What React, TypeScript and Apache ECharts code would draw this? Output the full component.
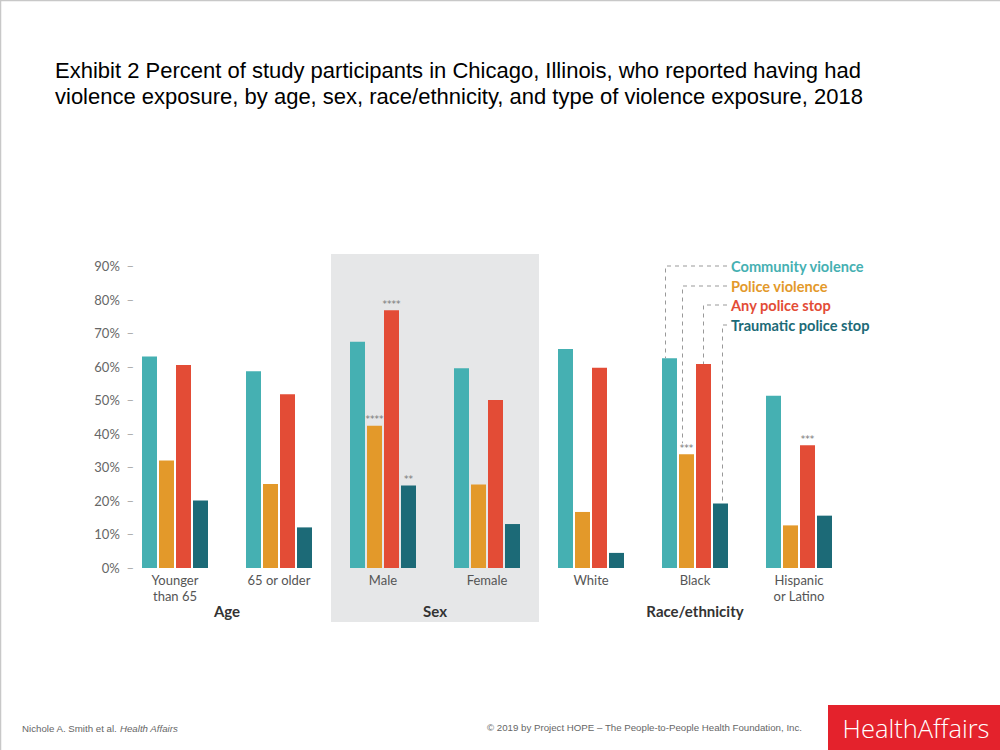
import React, { useEffect, useRef } from "react";
import * as echarts from "echarts";

const categories = ["Younger\nthan 65", "65 or older", "Male", "Female", "White", "Black", "Hispanic\nor Latino"];
const seriesNames = ["Community violence", "Police violence", "Any police stop", "Traumatic police stop"];
const communityViolence = [63.0, 58.6, 67.4, 59.5, 65.3, 62.5, 51.3];
const policeViolence = [32.0, 25.0, 42.4, 24.9, 16.7, 33.9, 12.7];
const anyPoliceStop = [60.5, 51.8, 76.8, 50.1, 59.7, 60.8, 36.6];
const traumaticPoliceStop = [20.1, 12.1, 24.6, 13.1, 4.5, 19.2, 15.6];
const communityStars = ["", "", "", "", "", "", ""];
const policeStars = ["", "", "****", "", "", "***", ""];
const anyStopStars = ["", "", "****", "", "", "", "***"];
const traumaticStars = ["", "", "**", "", "", "", ""];
const yTicks = [0, 10, 20, 30, 40, 50, 60, 70, 80, 90];
const groups = [
  { name: "Age", from: 0, to: 1 },
  { name: "Sex", from: 2, to: 3 },
  { name: "Race/ethnicity", from: 5, to: 5 },
];
const titleLines = [
  "Exhibit 2 Percent of study participants in Chicago, Illinois, who reported having had",
  "violence exposure, by age, sex, race/ethnicity, and type of violence exposure, 2018",
];

const colors = ["#45b0b2", "#e3992a", "#e34c36", "#1c6a77"];
const allValues = [communityViolence, policeViolence, anyPoliceStop, traumaticPoliceStop];
const allStars = [communityStars, policeStars, anyStopStars, traumaticStars];

export default function App() {
  const ref = useRef<HTMLDivElement>(null);
  useEffect(() => {
    if (!ref.current) return;
    const chart = echarts.init(ref.current, null, { renderer: "svg" });
    const barWidth = 15;
    const barGapPx = 2;
    chart.setOption({
      animation: false,
      grid: { left: 123, width: 728, top: 266, height: 302 },
      xAxis: {
        type: "category",
        data: categories,
        axisLine: { show: false },
        axisTick: { show: false },
        axisLabel: {
          color: "#555",
          fontFamily: "Lato",
          fontSize: 13,
          lineHeight: 16,
          margin: 4,
        },
      },
      yAxis: {
        type: "value",
        min: yTicks[0],
        max: yTicks[yTicks.length - 1],
        interval: 10,
        splitLine: { show: false },
        axisLine: { show: false },
        axisTick: { show: false },
        axisLabel: {
          margin: -11,
          formatter: (v: number) => `{a|${v}%}  {b|–}`,
          rich: {
            a: { color: "#666", fontFamily: "Lato", fontSize: 13 },
            b: { color: "#aaa", fontFamily: "Lato", fontSize: 13 },
          },
        },
      },
      series: allValues.map((vals, i) => ({
        name: seriesNames[i],
        type: "bar",
        barWidth,
        barGap: `${(barGapPx / barWidth) * 100}%`,
        itemStyle: { color: colors[i] },
        z: 3,
        data: vals.map((v, j) =>
          allStars[i][j]
            ? {
                value: v,
                label: {
                  show: true,
                  position: "top",
                  distance: 2,
                  formatter: allStars[i][j],
                  color: "#777",
                  fontSize: 9,
                  fontFamily: "DejaVu Sans",
                },
              }
            : v
        ),
      })),
    });

    const px = (cat: number, val: number) => chart.convertToPixel({ gridIndex: 0 } as any, [cat, val]) as number[];
    const cw = 728 / categories.length;
    const catLeft = (i: number) => px(i, 0)[0] - cw / 2;
    const catRight = (i: number) => px(i, 0)[0] + cw / 2;
    const baseY = px(0, 0)[1];
    const y90 = px(0, 90)[1];

    const offsets = [-1.5, -0.5, 0.5, 1.5].map((k) => k * (barWidth + barGapPx));
    const lineShift = [-4, -4, 0, 2];
    const blackIdx = 5;
    const legendYs = [266, 286, 305, 325];
    const legendX = 731;

    const graphics: any[] = [];
    // slide border
    graphics.push({ type: "line", shape: { x1: 0, y1: 0.5, x2: 1000, y2: 0.5 }, style: { stroke: "#c8c8c8", lineWidth: 1.5 }, z: 1 });
    graphics.push({ type: "line", shape: { x1: 0.5, y1: 0, x2: 0.5, y2: 750 }, style: { stroke: "#c8c8c8", lineWidth: 1.5 }, z: 1 });
    // shaded Sex area
    graphics.push({
      type: "rect",
      z: -10,
      shape: { x: catLeft(2), y: y90 - 12, width: catRight(3) - catLeft(2), height: baseY - y90 + 66 },
      style: { fill: "#e6e7e8" },
    });
    // group titles
    groups.forEach((g) => {
      const cx = (px(g.from, 0)[0] + px(g.to, 0)[0]) / 2;
      graphics.push({
        type: "text",
        z: 5,
        x: cx,
        y: baseY + 43,
        style: { text: g.name, fill: "#333", font: "bold 15px Lato", textAlign: "center", textVerticalAlign: "middle" },
      });
    });
    // legend + leaders
    seriesNames.forEach((name, i) => {
      const ly = legendYs[i];
      const center = px(blackIdx, 0)[0] + offsets[i] + lineShift[i];
      const top = px(blackIdx, allValues[i][blackIdx])[1] - (allStars[i][blackIdx] ? 11 : 0);
      graphics.push({
        type: "polyline",
        z: 5,
        shape: { points: [[legendX - 4, ly], [center, ly], [center, top]] },
        style: { stroke: "#999", lineWidth: 1, lineDash: [4, 4], fill: null },
      });
      graphics.push({
        type: "text",
        z: 5,
        x: legendX,
        y: ly,
        style: { text: name, fill: colors[i], font: "bold 14.6px Lato", textAlign: "left", textVerticalAlign: "middle" },
      });
    });
    // title
    titleLines.forEach((t, i) => {
      graphics.push({
        type: "text",
        z: 5,
        x: 55,
        y: 70 + i * 26,
        style: { text: t, fill: "#000", font: "22px 'Liberation Sans', Arial, sans-serif", textAlign: "left", textVerticalAlign: "middle" },
      });
    });
    // footer
    graphics.push({
      type: "text",
      z: 5,
      x: 22,
      y: 728,
      style: {
        text: "{a|Nichole A. Smith et al. }{b|Health Affairs}",
        textVerticalAlign: "middle",
        rich: {
          a: { fill: "#666", font: "9.7px 'Liberation Sans', Arial, sans-serif" },
          b: { fill: "#666", font: "italic 9.7px 'Liberation Sans', Arial, sans-serif" },
        },
      },
    });
    graphics.push({
      type: "text",
      z: 5,
      x: 487,
      y: 727,
      style: {
        text: "© 2019 by Project HOPE – The People-to-People Health Foundation, Inc.",
        fill: "#666",
        font: "9.7px 'Liberation Sans', Arial, sans-serif",
        textAlign: "left",
        textVerticalAlign: "middle",
      },
    });
    graphics.push({ type: "rect", z: 5, shape: { x: 828, y: 705, width: 172, height: 45 }, style: { fill: "#e4222c" } });
    graphics.push({
      type: "text",
      z: 6,
      x: 916,
      y: 728,
      style: { text: "HealthAffairs", fill: "#fff", font: "300 25.5px 'Open Sans', sans-serif", textAlign: "center", textVerticalAlign: "middle" },
    });

    chart.setOption({ graphic: { elements: graphics } });
    return () => chart.dispose();
  }, []);
  return <div ref={ref} style={{ position: "fixed", left: 0, top: 0, width: 1000, height: 750, background: "#fff" }} />;
}
